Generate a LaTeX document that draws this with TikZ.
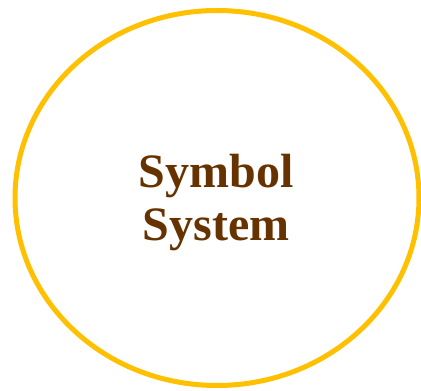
\documentclass[tikz,border=0pt]{standalone}
\usepackage{fontspec}
\setmainfont{Liberation Serif}
\usepackage{xcolor}
\usetikzlibrary{shapes.geometric}
\definecolor{ringgold}{HTML}{FFC000}
\definecolor{labelbrown}{HTML}{663300}

\begin{document}
\begin{tikzpicture}[x=1pt,y=1pt,
    ring/.style={ellipse,draw=ringgold,line width=5pt,minimum width=404pt,minimum height=375pt,inner sep=0pt},
    ringlabel/.style={text=labelbrown,font=\fontsize{48}{53}\selectfont\bfseries,align=center}]
    \useasboundingbox (0,0) rectangle (421,391);
    \node[ring] (symsys) at (217,193) {};
    \node[ringlabel] (symlabel) at (216,188) {Symbol\\System};
\end{tikzpicture}
\end{document}
